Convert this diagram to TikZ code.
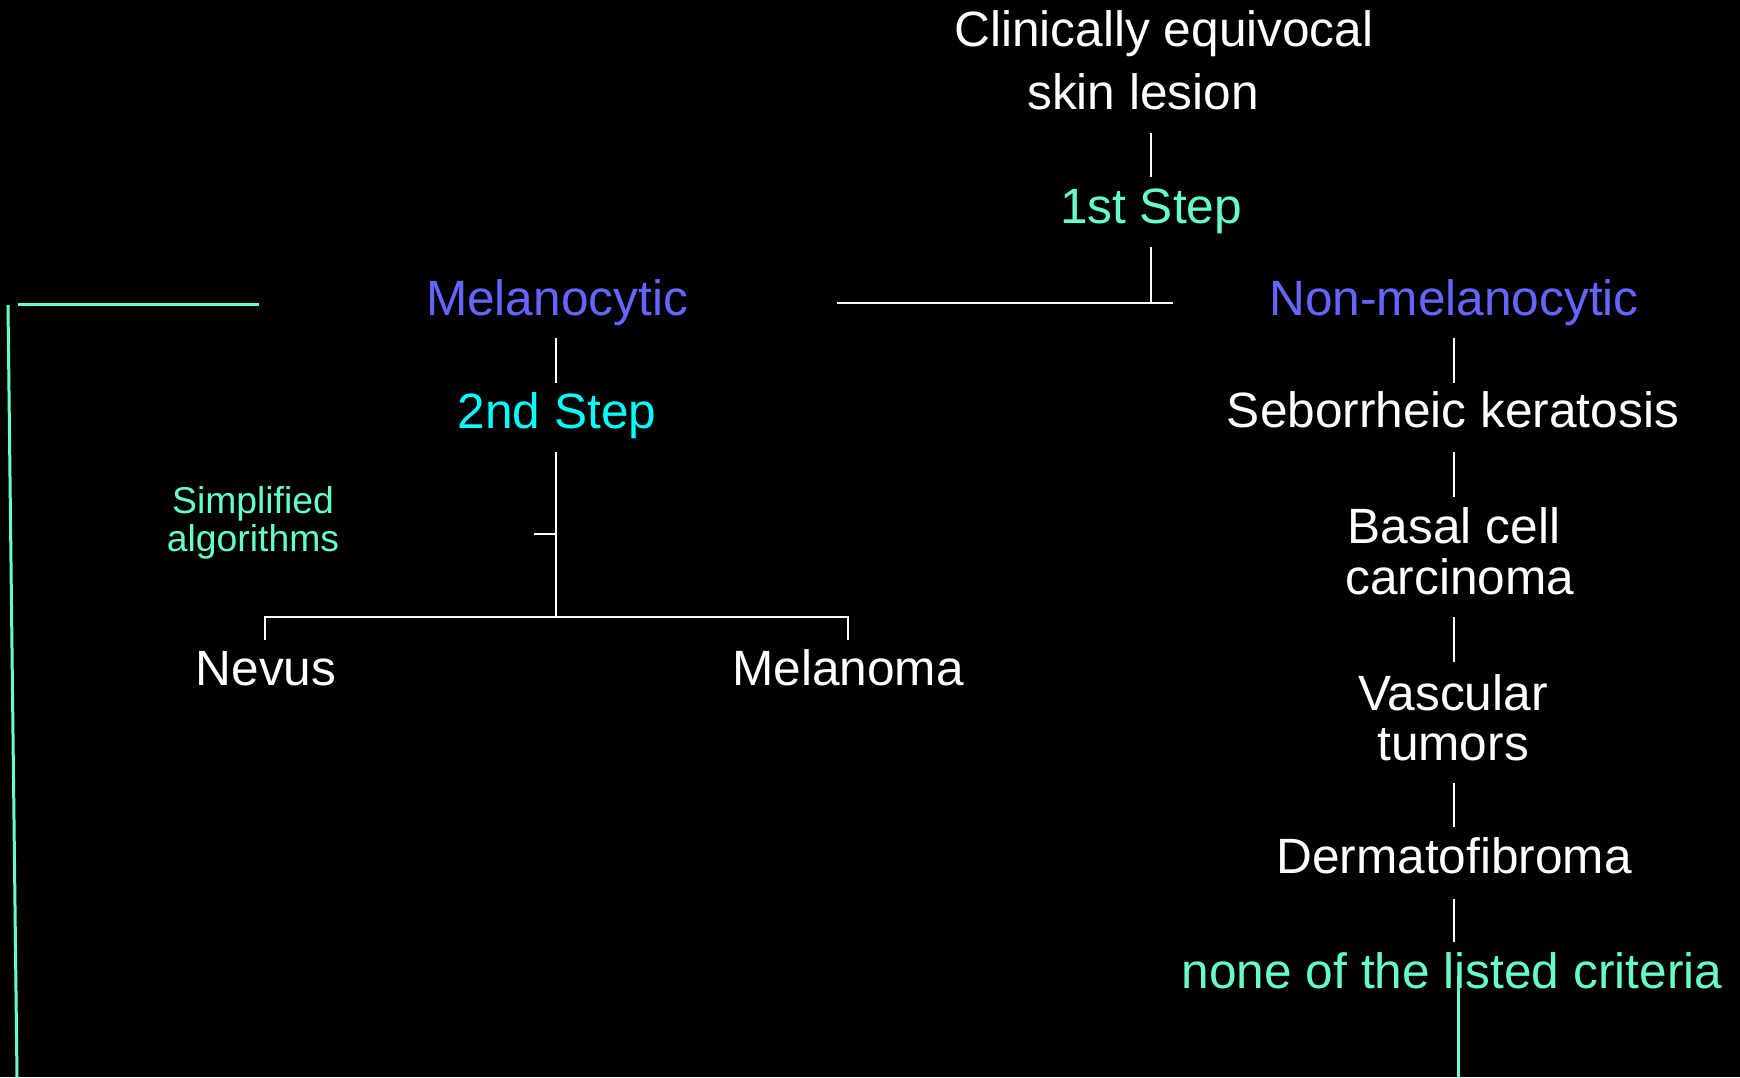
\documentclass[tikz,border=0pt]{standalone}
\usepackage{fontspec}
\setmainfont{Liberation Sans}
\definecolor{tealc}{RGB}{102,255,204}
\definecolor{bluec}{RGB}{102,102,255}
\definecolor{cyanc}{RGB}{0,255,255}
\tikzset{
  lbl/.style={inner sep=0pt, anchor=base, align=center, text=white, font=\fontsize{49.6}{51}\selectfont},
  tealtxt/.style={lbl, text=tealc},
  bluetxt/.style={lbl, text=bluec},
  cyantxt/.style={lbl, text=cyanc},
  wline/.style={draw=white, line width=2pt},
  tline/.style={draw=tealc, line width=3pt}
}
\begin{document}
\begin{tikzpicture}[x=1pt,y=-1pt]
\fill[black] (0,0) rectangle (1740,1077);
\useasboundingbox (0,0) rectangle (1740,1077);
% nodes (anchor base = baseline of the last line)
\node[lbl, font=\fontsize{49.6}{63}\selectfont] (clin) at (1164,109) {Clinically equivocal\\skin lesion\hspace*{42pt}};
\node[tealtxt] (step1) at (1151,223) {1st Step};
\node[bluetxt] (mel) at (557,315) {Melanocytic};
\node[bluetxt] (nonmel) at (1454,315) {Non-melanocytic};
\node[cyantxt] (step2) at (557,428) {2nd Step};
\node[lbl] (seb) at (1453,427) {Seborrheic keratosis};
\node[tealtxt, font=\fontsize{37.3}{38}\selectfont] (simp) at (253,551) {Simplified\\algorithms};
\node[lbl] (basal) at (1460,594) {Basal cell\hspace*{12pt}\\carcinoma};
\node[lbl, font=\fontsize{49.6}{50}\selectfont] (vasc) at (1453,760) {Vascular\\tumors};
\node[lbl] (derm) at (1454,873) {Dermatofibroma};
\node[tealtxt] (none) at (1452,988) {none of the listed criteria};
\node[lbl] (nevus) at (266,685) {Nevus};
\node[lbl] (melan) at (848,685) {Melanoma};
% coordinates
\coordinate (c1a) at (1151,133); \coordinate (c1b) at (1151,177);
\coordinate (c2a) at (1151,247); \coordinate (c2b) at (1151,303);
\coordinate (hL) at (837,303); \coordinate (hR) at (1173,303);
\coordinate (m1a) at (556,338); \coordinate (m1b) at (556,383);
\coordinate (m2a) at (556,452); \coordinate (m2b) at (556,617);
\coordinate (tick) at (534,534); \coordinate (tickR) at (556,534);
\coordinate (nvA) at (265,640); \coordinate (nvB) at (265,617);
\coordinate (mlB) at (848,617); \coordinate (mlA) at (848,640);
\coordinate (r1a) at (1454,338); \coordinate (r1b) at (1454,383);
\coordinate (r2a) at (1454,452); \coordinate (r2b) at (1454,497);
\coordinate (r3a) at (1454,617); \coordinate (r3b) at (1454,662);
\coordinate (r4a) at (1454,783); \coordinate (r4b) at (1454,827);
\coordinate (r5a) at (1454,899); \coordinate (r5b) at (1454,942);
\coordinate (tA) at (18,304); \coordinate (tB) at (259,304);
\coordinate (vA) at (8,305); \coordinate (vB) at (17,1077);
\coordinate (bA) at (1458,976); \coordinate (bB) at (1458,1077);
% white connectors
\draw[wline] (c1a) -- (c1b);
\draw[wline] (c2a) -- (c2b);
\draw[wline] (hL) -- (hR);
\draw[wline] (m1a) -- (m1b);
\draw[wline] (m2a) -- (m2b);
\draw[wline] (tick) -- (tickR);
\draw[wline] (nvA) -- (nvB) -- (mlB) -- (mlA);
\draw[wline] (r1a) -- (r1b);
\draw[wline] (r2a) -- (r2b);
\draw[wline] (r3a) -- (r3b);
\draw[wline] (r4a) -- (r4b);
\draw[wline] (r5a) -- (r5b);
% teal connectors
\draw[tline] (tA) -- (tB);
\draw[tline] (vA) -- (vB);
\draw[tline] (bA) -- (bB);
\end{tikzpicture}
\end{document}
